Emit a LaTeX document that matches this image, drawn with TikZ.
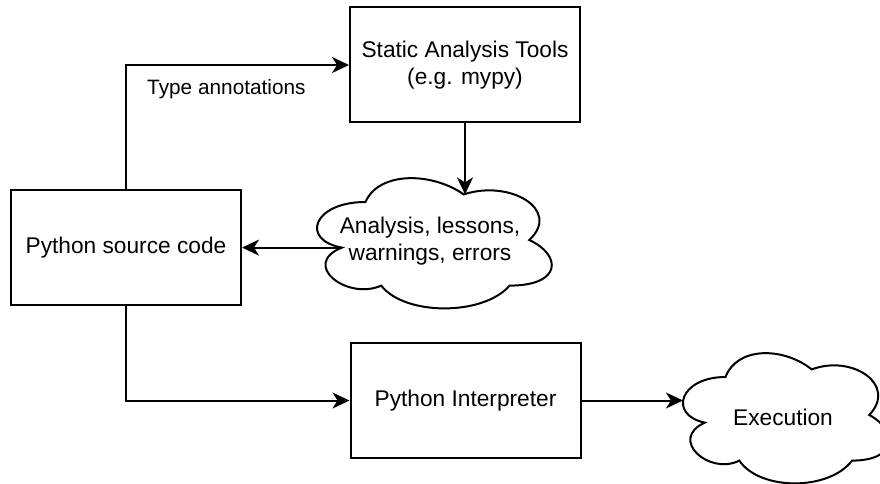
\documentclass[tikz,border=0pt]{standalone}
\usepackage{fontspec}
\setmainfont{Liberation Sans}
\usetikzlibrary{arrows.meta}

\tikzset{
  box/.style={draw, line width=2pt, fill=white, minimum width=230pt, minimum height=115pt,
    inner sep=0pt, align=center, font=\fontsize{22.7}{27.5}\selectfont},
  txt/.style={inner sep=0pt, align=center, font=\fontsize{22.7}{27.5}\selectfont},
  lbl/.style={inner sep=0pt, font=\fontsize{20.8}{25}\selectfont},
  cloudline/.style={draw, fill=white, line width=2pt},
  arr/.style={line width=2pt, -{Stealth[length=17pt,width=16pt,inset=5pt]}},
}

% cloud outline in a box at (x0,y0) of size w x h, with named anchor points
\newcommand{\cloudshape}[5]{%
  \begin{scope}[shift={(#2,#3)}, x=#4pt, y=-#5pt]
    \draw[cloudline] (0.25,0.25) .. controls (0.05,0.25) and (0,0.5) .. (0.16,0.55)
      .. controls (0,0.66) and (0.18,0.9) .. (0.31,0.8)
      .. controls (0.4,1) and (0.7,1) .. (0.8,0.8)
      .. controls (1,0.8) and (1,0.6) .. (0.875,0.5)
      .. controls (1,0.3) and (0.8,0.1) .. (0.625,0.2)
      .. controls (0.5,0.05) and (0.3,0.05) .. (0.25,0.25) -- cycle;
    \coordinate (#1-top) at (0.625,0.2);
    \coordinate (#1-notch) at (0.16,0.55);
    \coordinate (#1-west) at (0.065,0.42);
  \end{scope}}

\begin{document}
\begin{tikzpicture}[x=1pt, y=-1pt]
  \useasboundingbox (0,0) rectangle (880,484);
  \fill[white] (0,0) rectangle (880,484);

  % boxes
  \node[box] (sat) at (465,65) {Static Analysis Tools\\(e.g. mypy)};
  \node[box] (src) at (126,247.5) {Python source code};
  \node[box] (pint) at (465.5,400.5) {Python Interpreter};

  % clouds
  \cloudshape{out}{300}{164}{262}{152}
  \node[txt] (outtxt) at (430,241) {Analysis, lessons,\\warnings, errors};
  \cloudshape{exec}{668}{339}{230}{152}
  \node[txt] (exectxt) at (783,417) {Execution};

  % connectors
  \draw[arr] (src.north) |- (sat.west);
  \node[lbl, anchor=west] (ann) at (147,89) {Type annotations};
  \draw[arr] (sat.south) -- (sat.south |- out-top);
  \draw[arr] (out-notch) -- (src.east |- out-notch);
  \draw[arr] (src.south) |- (pint.west);
  \draw[arr] (pint.east) -- (pint.east -| exec-west);
\end{tikzpicture}
\end{document}
